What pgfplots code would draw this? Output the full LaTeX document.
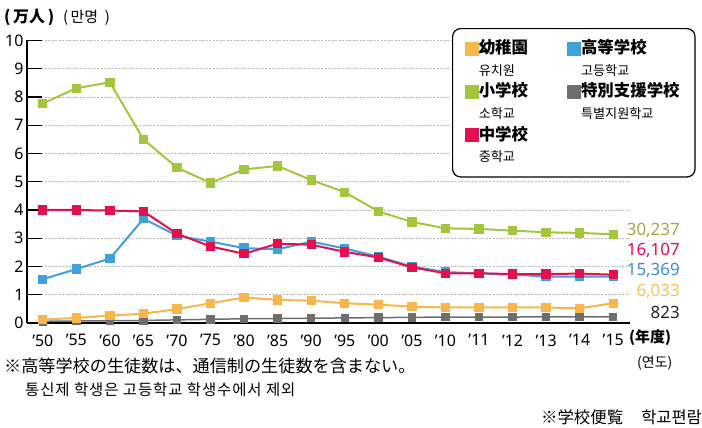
\documentclass[border=0pt]{standalone}
\usepackage{pgfplots}
\pgfplotsset{compat=1.18}
\usepackage{fontspec}
\setmainfont{Noto Sans}
\newfontfamily\jp{Noto Sans CJK JP}
\newfontfamily\kr{Noto Sans CJK KR}
\newfontfamily\krs[LetterSpace=6]{Noto Sans CJK KR}
\definecolor{cgreen}{HTML}{A4C63F}
\definecolor{cred}{HTML}{E4104E}
\definecolor{cblue}{HTML}{3FA0DC}
\definecolor{corange}{HTML}{F8B74A}
\definecolor{cgray}{HTML}{6E6E6E}
\definecolor{lgreen}{HTML}{A3A84B}
\definecolor{lblue}{HTML}{3A8ED0}
\definecolor{lorange}{HTML}{F5C264}
\newcommand\fs[1]{\fontsize{#1}{#1}\selectfont}
\newcommand\lent[3]{\begin{minipage}[t]{#3}\fontsize{16.5}{16.5}\selectfont\jp\bfseries #1\par\fontsize{13.2}{22}\selectfont\kr\mdseries #2\end{minipage}}
\begin{document}
\begin{tikzpicture}
\path[use as bounding box] (0,0) rectangle (702bp,428bp);
\begin{axis}[
  at={(27bp,105bp)}, anchor=south west,
  scale only axis, width=603bp, height=282.5bp,
  xmin=-0.47, xmax=17.5, ymin=0, ymax=10,
  axis lines*=left,
  axis line style={line width=1.2bp, black},
  ytick={0,1,...,10},
  xtick={0,1,...,17},
  xticklabels={’50,’55,’60,’65,’70,’75,’80,’85,’90,’95,’00,’05,’10,’11,’12,’13,’14,’15},
  xtick style={draw=none},
  ytick style={line width=1.2bp, black},
  major tick length=15bp, tick align=inside,
  ymajorgrids,
  grid style={gray!55, dash pattern=on 2bp off 1.5bp, line width=0.6bp},
  ticklabel style={font=\fs{16}},
  xticklabel style={yshift=-8bp},
  /pgf/number format/assume math mode=true,
  clip=false,
  legend columns=2,
  legend image code/.code={\fill[#1, sharp corners] (0bp,-1.5bp) rectangle (13bp,11.5bp);},
  legend style={at={(0.7048,1.0442)}, anchor=north west,
    draw=black, line width=1.2bp, rounded corners=8bp,
    inner xsep=12bp, inner ysep=11bp, fill=white,
    nodes={inner sep=0pt, text depth=, anchor=base west},
    row sep=6bp},
]
\addlegendimage{color=corange}
\addlegendentry{\lent{幼稚園}{유치원}{88bp}}
\addlegendimage{color=cblue}
\addlegendentry{\lent{高等学校}{고등학교}{102bp}}
\addlegendimage{color=cgreen}
\addlegendentry{\lent{小学校}{소학교}{88bp}}
\addlegendimage{color=cgray}
\addlegendentry{\lent{特別支援学校}{특별지원학교}{102bp}}
\addlegendimage{color=cred}
\addlegendentry{\lent{中学校}{중학교\rule[-4bp]{0pt}{1bp}}{88bp}}

% special
\addplot[forget plot, color=cgray, line width=1.5bp, mark=square*, mark size=3.5bp, mark options={fill=cgray}] coordinates {
(0,0.06)(1,0.07)(2,0.08)(3,0.09)(4,0.11)(5,0.13)(6,0.15)(7,0.16)(8,0.17)(9,0.18)(10,0.19)(11,0.20)(12,0.21)(13,0.21)(14,0.21)(15,0.22)(16,0.22)(17,0.22)};
% kindergarten
\addplot[forget plot, color=corange, line width=2bp, mark=square*, mark size=3.7bp] coordinates {
(0,0.12)(1,0.18)(2,0.26)(3,0.33)(4,0.49)(5,0.70)(6,0.90)(7,0.82)(8,0.79)(9,0.70)(10,0.65)(11,0.58)(12,0.55)(13,0.55)(14,0.55)(15,0.55)(16,0.52)(17,0.70)};
% elementary
\addplot[forget plot, color=cgreen, line width=2bp, mark=square*, mark size=3.7bp] coordinates {
(0,7.77)(1,8.31)(2,8.52)(3,6.50)(4,5.50)(5,4.96)(6,5.44)(7,5.56)(8,5.06)(9,4.63)(10,3.95)(11,3.58)(12,3.35)(13,3.33)(14,3.27)(15,3.21)(16,3.19)(17,3.14)};
% high
\addplot[forget plot, color=cblue, line width=2bp, mark=square*, mark size=3.7bp] coordinates {
(0,1.55)(1,1.91)(2,2.28)(3,3.69)(4,3.09)(5,2.88)(6,2.65)(7,2.61)(8,2.88)(9,2.64)(10,2.35)(11,2.00)(12,1.80)(13,1.76)(14,1.72)(15,1.64)(16,1.64)(17,1.64)};
% middle
\addplot[forget plot, color=cred, line width=2bp, mark=square*, mark size=3.7bp] coordinates {
(0,4.00)(1,4.00)(2,3.98)(3,3.95)(4,3.16)(5,2.71)(6,2.45)(7,2.81)(8,2.77)(9,2.52)(10,2.32)(11,1.97)(12,1.76)(13,1.76)(14,1.73)(15,1.73)(16,1.75)(17,1.71)};
\end{axis}
% value labels
\node[anchor=base east, text=lgreen, inner sep=0pt, font=\fs{17}] at (680bp,192.7bp) {30,237};
\node[anchor=base east, text=cred, inner sep=0pt, font=\fs{17}] at (680bp,172.7bp) {16,107};
\node[anchor=base east, text=lblue, inner sep=0pt, font=\fs{17}] at (680bp,152bp) {15,369};
\node[anchor=base east, text=lorange, inner sep=0pt, font=\fs{17}] at (680bp,131bp) {6,033};
\node[anchor=base east, text=black!85, inner sep=0pt, font=\fs{17}] at (680bp,109.3bp) {823};
% unit labels
\node[anchor=base west, inner sep=0pt, font=\fs{16}\jp\bfseries] at (4bp,405bp) {(\,万人\,)};
\node[anchor=base west, inner sep=0pt, font=\fs{15}\kr] at (63bp,405bp) {(\,만명\ \ )};
\node[anchor=base west, inner sep=0pt, font=\fs{15}\jp\bfseries] at (629bp,85bp) {(年度)};
\node[anchor=base west, inner sep=0pt, font=\fs{14}\kr] at (637bp,60.5bp) {(연도)};
% notes
\node[anchor=base west, inner sep=0pt, font=\fs{17.2}\jp] at (4bp,55bp) {※高等学校の生徒数は、通信制の生徒数を含まない。};
\node[anchor=base west, inner sep=0pt, font=\fs{15.5}\krs] at (25bp,33bp) {통신제 학생은 고등학교 학생수에서 제외};
\node[anchor=base east, inner sep=0pt, font=\fs{16.5}] at (702bp,5bp) {{\jp ※学校便覧}\hspace{18bp}{\kr 학교편람}};
\end{tikzpicture}
\end{document}
